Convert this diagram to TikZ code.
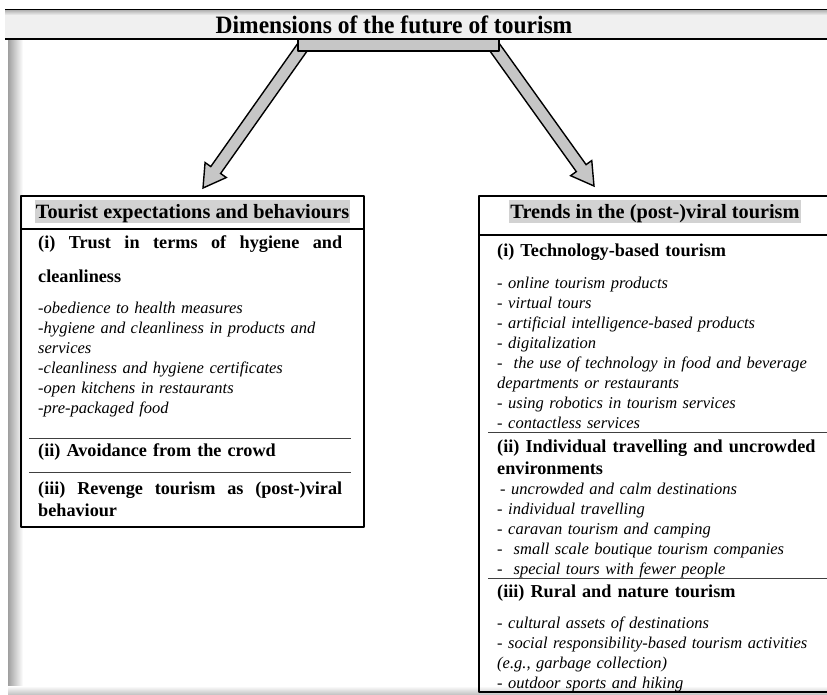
\documentclass[tikz,border=0pt]{standalone}
\usepackage{fontspec}
\setmainfont{Liberation Serif}
\usetikzlibrary{calc,positioning}
\tikzset{
  boxline/.style={line width=1.6pt},
  rule/.style={line width=0.8pt, black!75},
  headtext/.style={font=\fontsize{20.3}{24}\selectfont\bfseries, fill=gray!35, inner xsep=1pt, inner ysep=0pt, text height=18pt, text depth=5pt, anchor=base},
  subhead/.style={font=\fontsize{18.2}{22}\selectfont\bfseries, inner sep=0pt, anchor=base west, align=left, text width=325pt},
  items/.style={font=\fontsize{16.5}{20}\selectfont\itshape, inner sep=0pt, anchor=base west, align=left, text width=330pt},
  arrowbody/.style={fill=gray!45, draw=black, line width=1.4pt, line join=miter},
}
\begin{document}
\begin{tikzpicture}[x=1pt, y=-1pt, line join=round]
\useasboundingbox (0,0) rectangle (827,694);
% window frame
\shade[left color=gray!75, right color=white] (8,39) rectangle (23,690);
\shade[top color=white, bottom color=gray!45] (8,686) rectangle (827,694);
\fill[gray!12] (5,9) rectangle (827,39);
\shade[top color=gray!70, bottom color=gray!12] (5,9) rectangle (827,15);
\draw[line width=1pt] (5,9.5) -- (827,9.5);
\draw[line width=1.2pt] (5,39) -- (827,39);
\node[font=\fontsize{25}{28}\selectfont\bfseries, anchor=base, inner sep=0pt] (title) at (394,33) {\scalebox{0.94}[1]{Dimensions of the future of tourism}};
% arrows
\path
(304,45) coordinate (SL)
(203,188) coordinate (TL)
(493,45) coordinate (SR)
(594,186) coordinate (TR)
;
\foreach \s/\t in {SL/TL,SR/TR}{
  \coordinate (h) at ($(\t)!22pt!(\s)$);
  \filldraw[arrowbody] ($(\s)!6pt!90:(\t)$) -- ($(h)!6pt!90:(\t)$) -- ($(h)!13pt!90:(\t)$) -- (\t)
    -- ($(h)!13pt!-90:(\t)$) -- ($(h)!6pt!-90:(\t)$) -- ($(\s)!6pt!-90:(\t)$) -- cycle;
}
\node[draw, fill=gray!45, line width=1.6pt, minimum width=201pt, minimum height=12pt, inner sep=0pt] (bar) at (398.5,45) {};
% left box
\draw[boxline] (21,196) rectangle (364,527);
\draw[boxline] (21,229) -- (364,229);
\node[headtext] (lhead) at (192.5,218) {Tourist expectations and behaviours};
\node[subhead, text width=304pt] (lI) at (38,248) {\makebox[304pt][s]{(i)\hfill Trust\hfill in\hfill terms\hfill of\hfill hygiene\hfill and}\\[12pt] cleanliness};
\node[items] (lIitems) at (38,313) {-obedience to health measures\\ -hygiene and cleanliness in products and\\ services\\ -cleanliness and hygiene certificates\\ -open kitchens in restaurants\\ -pre-packaged food};
\draw[rule] (29,438) -- (351,438);
\node[subhead] (lII) at (38,456) {(ii) Avoidance from the crowd};
\draw[rule] (29,472) -- (351,472);
\node[subhead, text width=304pt] (lIII) at (38,494) {\makebox[304pt][s]{(iii)\hfill Revenge\hfill tourism\hfill as\hfill (post-)viral}\\ behaviour};
% right box
\draw[boxline] (827,196) -| (479,692) -- (827,692);
\draw[boxline] (479,235) -- (827,235);
\node[headtext] (rhead) at (655,218) {Trends in the (post-)viral tourism};
\node[subhead] (rI) at (497,256) {(i) Technology-based tourism};
\node[items] (rIitems) at (497,288) {- online tourism products\\ - virtual tours\\ - artificial intelligence-based products\\ - digitalization\\ -\ \ the use of technology in food and beverage\\ departments or restaurants\\ - using robotics in tourism services\\ - contactless services};
\draw[rule] (488,432) -- (827,432);
\node[subhead] (rII) at (497,452) {(ii) Individual travelling and uncrowded\\ environments};
\node[items] (rIIitems) at (497,494) {\hspace*{3pt}- uncrowded and calm destinations\\ - individual travelling\\ - caravan tourism and camping\\ -\ \ small scale boutique tourism companies\\ -\ \ special tours with fewer people};
\draw[rule] (488,578) -- (827,578);
\node[subhead] (rIII) at (497,597) {(iii) Rural and nature tourism};
\node[items] (rIIIitems) at (497,628) {- cultural assets of destinations\\ - social responsibility-based tourism activities\\ (e.g., garbage collection)\\ - outdoor sports and hiking};
\end{tikzpicture}
\end{document}
